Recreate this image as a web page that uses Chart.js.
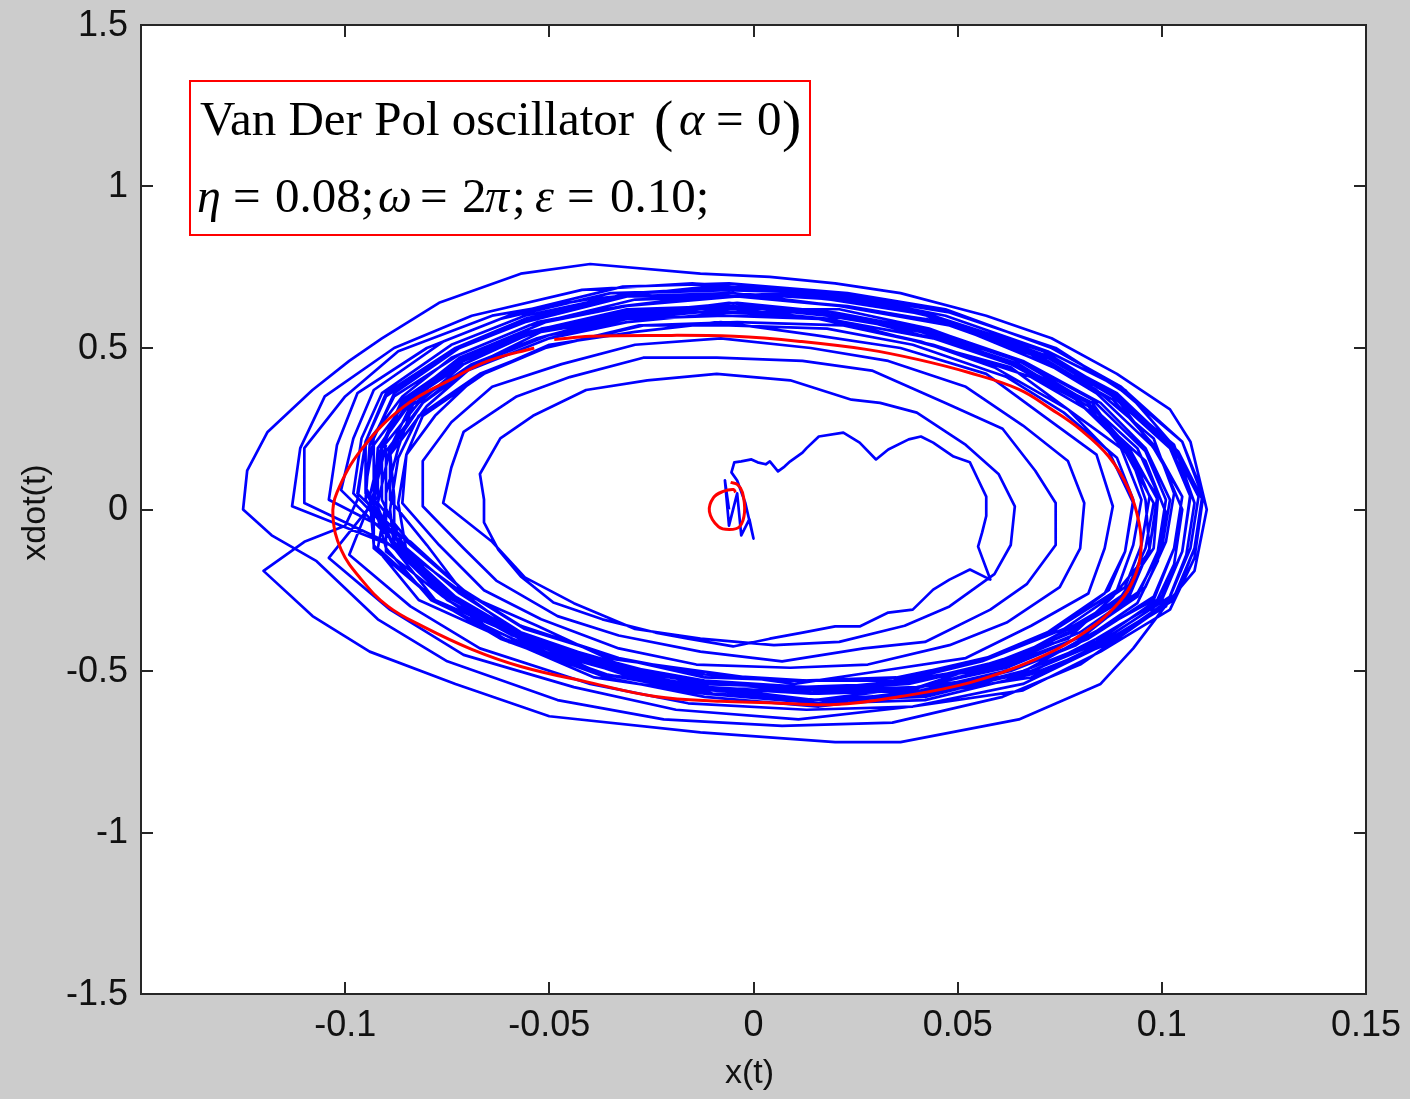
<!DOCTYPE html>
<html>
<head>
<meta charset="utf-8">
<script src="https://cdn.jsdelivr.net/npm/chart.js@4.4.1/dist/chart.umd.min.js"></script>
<style>
  html, body { margin: 0; padding: 0; background: #cccccc; }
  canvas { display: block; }
</style>
</head>
<body>
<canvas id="phaseChart" width="1410" height="1099"></canvas>
<script>
// Van Der Pol phase portrait - x(t) vs xdot(t)

const xTicks = [-0.15, -0.1, -0.05, 0, 0.05, 0.1, 0.15];
const xTickLabels = ['', '-0.1', '-0.05', '0', '0.05', '0.1', '0.15'];
const yTicks = [-1.5, -1, -0.5, 0, 0.5, 1, 1.5];
const yTickLabels = ['-1.5', '-1', '-0.5', '0', '0.5', '1', '1.5'];
const xTitle = 'x(t)';
const yTitle = 'xdot(t)';

// deterministic solution (red): small loop at the origin and the limit cycle
const redStart = [[-0.0056,0.084],[-0.0039,0.077],[-0.0027,0.053],[-0.0022,-0.009],[-0.0034,-0.053],[-0.0059,-0.062],[-0.0086,-0.053],[-0.0108,-0.006],[-0.0098,0.037],[-0.0074,0.056],[-0.0049,0.062],[-0.0044,0.053]];
const redCycle = [[-0.0537,0.50],[-0.065,0.46],[-0.073,0.41],[-0.0855,0.32],[-0.096,0.186],[-0.102,0.053],[-0.103,-0.02],[-0.101,-0.124],[-0.096,-0.217],[-0.0895,-0.30],[-0.081,-0.362],[-0.069,-0.433],[-0.057,-0.486],[-0.040,-0.536],[-0.024,-0.579],[-0.008,-0.594],[0.0037,-0.598],[0.020,-0.604],[0.036,-0.579],[0.053,-0.536],[0.069,-0.464],[0.081,-0.381],[0.0895,-0.288],[0.0934,-0.207],[0.0949,-0.124],[0.0944,-0.04],[0.0919,0.062],[0.087,0.164],[0.080,0.248],[0.073,0.31],[0.065,0.372],[0.0527,0.424],[0.0404,0.464],[0.028,0.495],[0.0118,0.52],[-0.0047,0.536],[-0.024,0.539],[-0.040,0.536],[-0.0488,0.526]];

// noisy solution (blue), loop by loop
const blueStart = [[-0.006,0.00],[-0.007,0.09],[-0.006,-0.05],[-0.004,0.05],[-0.003,-0.08],[-0.001,-0.03],[0.000,-0.09],[-0.002,0.02],[-0.004,0.09],[-0.0054,0.115],[-0.0047,0.146],[-0.003,0.149],[-0.0005,0.155],[0.001,0.146],[0.003,0.14],[0.004,0.149],[0.006,0.118],[0.0076,0.133],[0.009,0.149],[0.012,0.176],[0.013,0.19],[0.016,0.226],[0.022,0.238],[0.026,0.207],[0.030,0.155],[0.033,0.186],[0.038,0.217],[0.041,0.226],[0.044,0.207],[0.049,0.164],[0.053,0.146],[0.055,0.093],[0.057,0.04],[0.057,-0.02],[0.056,-0.071],[0.055,-0.115],[0.058,-0.217],[0.053,-0.186],[0.048,-0.217],[0.044,-0.248],[0.039,-0.31],[0.033,-0.319],[0.026,-0.362],[0.020,-0.362],[0.012,-0.381],[0.004,-0.40],[-0.005,-0.424],[-0.016,-0.40],[-0.024,-0.381],[-0.037,-0.34],[-0.049,-0.288],[-0.057,-0.207],[-0.0625,-0.124],[-0.066,-0.04],[-0.066,0.031]];
const loopA = [[-0.067,0.11],[-0.062,0.22],[-0.054,0.29],[-0.041,0.37],[-0.026,0.40],[-0.009,0.42],[0.009,0.40],[0.024,0.34],[0.031,0.33],[0.040,0.30],[0.052,0.20],[0.060,0.11],[0.064,0.01],[0.063,-0.11],[0.059,-0.20],[0.048,-0.30],[0.037,-0.36],[0.021,-0.41],[0.005,-0.42],[-0.013,-0.40],[-0.029,-0.37],[-0.044,-0.29],[-0.056,-0.21],[-0.064,-0.10]];
const loopB = [[-0.076,0.02],[-0.074,0.13],[-0.071,0.24],[-0.058,0.35],[-0.045,0.41],[-0.027,0.47],[-0.009,0.47],[0.012,0.46],[0.029,0.43],[0.047,0.33],[0.061,0.25],[0.069,0.12],[0.074,0.02],[0.074,-0.11],[0.067,-0.23],[0.058,-0.31],[0.042,-0.41],[0.027,-0.43],[0.007,-0.47],[-0.013,-0.44],[-0.033,-0.39],[-0.048,-0.33],[-0.063,-0.22],[-0.071,-0.12]];
const loopC = [[-0.081,0.01],[-0.081,0.15],[-0.074,0.27],[-0.064,0.38],[-0.047,0.45],[-0.029,0.51],[-0.008,0.53],[0.014,0.50],[0.033,0.46],[0.052,0.38],[0.066,0.26],[0.077,0.15],[0.081,0.02],[0.080,-0.12],[0.075,-0.24],[0.062,-0.35],[0.048,-0.42],[0.028,-0.48],[0.009,-0.49],[-0.014,-0.48],[-0.033,-0.43],[-0.052,-0.34],[-0.066,-0.25],[-0.077,-0.11]];
const loopD = [[-0.086,0.02],[-0.085,0.17],[-0.078,0.29],[-0.068,0.41],[-0.050,0.51],[-0.029,0.55],[-0.008,0.58],[0.015,0.54],[0.036,0.50],[0.057,0.42],[0.071,0.29],[0.084,0.17],[0.088,0.01],[0.086,-0.12],[0.082,-0.26],[0.068,-0.36],[0.052,-0.46],[0.031,-0.50],[0.010,-0.54],[-0.013,-0.50],[-0.036,-0.46],[-0.053,-0.36],[-0.071,-0.26],[-0.080,-0.11]];
const loopE = [[-0.089,0.03],[-0.089,0.17],[-0.080,0.32],[-0.070,0.43],[-0.050,0.53],[-0.031,0.59],[-0.007,0.60],[0.016,0.59],[0.041,0.52],[0.059,0.44],[0.077,0.31],[0.087,0.18],[0.093,0.02],[0.091,-0.13],[0.086,-0.26],[0.072,-0.39],[0.056,-0.47],[0.033,-0.54],[0.011,-0.55],[-0.014,-0.54],[-0.035,-0.47],[-0.057,-0.39],[-0.071,-0.26],[-0.085,-0.13]];
const loopF = [[-0.091,0.03],[-0.091,0.19],[-0.082,0.33],[-0.071,0.45],[-0.052,0.56],[-0.030,0.60],[-0.006,0.64],[0.019,0.60],[0.041,0.56],[0.064,0.45],[0.079,0.34],[0.092,0.18],[0.096,0.03],[0.097,-0.13],[0.088,-0.27],[0.077,-0.40],[0.057,-0.48],[0.038,-0.56],[0.012,-0.56],[-0.012,-0.56],[-0.037,-0.48],[-0.056,-0.40],[-0.075,-0.26],[-0.085,-0.13]];
const loopZ1 = [[-0.087,0.02],[-0.085,0.17],[-0.081,0.29],[-0.066,0.42],[-0.051,0.50],[-0.028,0.57],[-0.006,0.57],[0.018,0.56],[0.039,0.51],[0.062,0.41],[0.076,0.30],[0.089,0.16],[0.093,0.03],[0.091,-0.13],[0.087,-0.25],[0.072,-0.38],[0.057,-0.46],[0.034,-0.53],[0.012,-0.53],[-0.012,-0.52],[-0.033,-0.46],[-0.056,-0.37],[-0.070,-0.26],[-0.083,-0.12]];
const loopG = [[-0.092,0.02],[-0.089,0.19],[-0.084,0.32],[-0.069,0.45],[-0.053,0.53],[-0.029,0.61],[-0.005,0.61],[0.019,0.61],[0.044,0.53],[0.064,0.45],[0.083,0.33],[0.092,0.17],[0.099,0.04],[0.097,-0.12],[0.092,-0.27],[0.077,-0.38],[0.061,-0.49],[0.037,-0.53],[0.014,-0.57],[-0.012,-0.53],[-0.034,-0.49],[-0.058,-0.38],[-0.073,-0.27],[-0.086,-0.12]];
const loopH = [[-0.095,0.05],[-0.095,0.20],[-0.086,0.35],[-0.074,0.47],[-0.053,0.58],[-0.032,0.63],[-0.005,0.67],[0.021,0.63],[0.047,0.58],[0.068,0.47],[0.088,0.36],[0.098,0.19],[0.105,0.04],[0.103,-0.12],[0.098,-0.28],[0.082,-0.39],[0.065,-0.51],[0.040,-0.55],[0.015,-0.59],[-0.011,-0.55],[-0.037,-0.51],[-0.058,-0.39],[-0.078,-0.28],[-0.088,-0.12]];
const loopI = [[-0.088,0.04],[-0.089,0.18],[-0.081,0.33],[-0.070,0.43],[-0.050,0.53],[-0.031,0.58],[-0.006,0.61],[0.019,0.59],[0.040,0.52],[0.063,0.44],[0.077,0.31],[0.090,0.19],[0.095,0.03],[0.093,-0.11],[0.089,-0.25],[0.074,-0.37],[0.058,-0.46],[0.035,-0.52],[0.012,-0.53],[-0.013,-0.51],[-0.034,-0.46],[-0.057,-0.36],[-0.071,-0.25],[-0.084,-0.11]];
const loopJ = [[-0.097,0.05],[-0.095,0.21],[-0.090,0.36],[-0.073,0.50],[-0.056,0.59],[-0.030,0.67],[-0.004,0.68],[0.023,0.66],[0.047,0.60],[0.072,0.49],[0.091,0.37],[0.102,0.21],[0.109,0.04],[0.107,-0.12],[0.102,-0.27],[0.085,-0.41],[0.068,-0.50],[0.042,-0.58],[0.016,-0.59],[-0.010,-0.57],[-0.037,-0.51],[-0.059,-0.40],[-0.079,-0.28],[-0.090,-0.12]];
const loopK = [[-0.093,0.02],[-0.091,0.19],[-0.086,0.33],[-0.071,0.46],[-0.054,0.55],[-0.030,0.62],[-0.006,0.62],[0.021,0.62],[0.043,0.56],[0.067,0.45],[0.083,0.34],[0.096,0.18],[0.101,0.03],[0.099,-0.13],[0.094,-0.27],[0.079,-0.40],[0.062,-0.48],[0.038,-0.56],[0.014,-0.57],[-0.013,-0.55],[-0.035,-0.49],[-0.059,-0.39],[-0.075,-0.28],[-0.088,-0.12]];
const loopZ3 = [[-0.089,0.00],[-0.087,0.16],[-0.082,0.29],[-0.067,0.42],[-0.051,0.50],[-0.027,0.57],[-0.004,0.58],[0.022,0.57],[0.044,0.51],[0.068,0.41],[0.083,0.30],[0.096,0.15],[0.101,-0.01],[0.099,-0.16],[0.094,-0.29],[0.079,-0.42],[0.063,-0.50],[0.039,-0.57],[0.016,-0.59],[-0.010,-0.56],[-0.032,-0.51],[-0.056,-0.41],[-0.071,-0.30],[-0.084,-0.15]];
const loopL = [[-0.101,0.06],[-0.098,0.22],[-0.093,0.37],[-0.076,0.52],[-0.058,0.61],[-0.032,0.69],[-0.006,0.70],[0.023,0.67],[0.047,0.62],[0.073,0.50],[0.090,0.38],[0.105,0.21],[0.110,0.05],[0.108,-0.12],[0.103,-0.27],[0.086,-0.42],[0.068,-0.51],[0.042,-0.59],[0.016,-0.60],[-0.012,-0.57],[-0.039,-0.52],[-0.061,-0.40],[-0.082,-0.28],[-0.093,-0.11]];
const loopM = [[-0.094,0.04],[-0.091,0.20],[-0.086,0.34],[-0.071,0.47],[-0.055,0.55],[-0.031,0.62],[-0.007,0.63],[0.019,0.61],[0.041,0.56],[0.065,0.46],[0.081,0.34],[0.094,0.19],[0.099,0.05],[0.097,-0.12],[0.092,-0.26],[0.077,-0.37],[0.061,-0.48],[0.037,-0.53],[0.013,-0.56],[-0.013,-0.53],[-0.035,-0.48],[-0.059,-0.38],[-0.075,-0.26],[-0.088,-0.11]];
const loopN = [[-0.095,0.03],[-0.094,0.20],[-0.088,0.35],[-0.072,0.48],[-0.055,0.57],[-0.029,0.65],[-0.004,0.66],[0.023,0.63],[0.046,0.58],[0.072,0.47],[0.088,0.35],[0.102,0.19],[0.107,0.04],[0.105,-0.13],[0.100,-0.28],[0.084,-0.40],[0.067,-0.51],[0.041,-0.56],[0.016,-0.60],[-0.011,-0.57],[-0.034,-0.50],[-0.060,-0.41],[-0.076,-0.27],[-0.090,-0.13]];
const loopO = [[-0.090,0.05],[-0.087,0.19],[-0.083,0.34],[-0.068,0.45],[-0.052,0.55],[-0.028,0.60],[-0.005,0.63],[0.020,0.60],[0.041,0.55],[0.065,0.45],[0.079,0.34],[0.092,0.19],[0.097,0.04],[0.095,-0.11],[0.091,-0.24],[0.076,-0.37],[0.060,-0.45],[0.036,-0.52],[0.013,-0.53],[-0.012,-0.51],[-0.033,-0.46],[-0.057,-0.36],[-0.071,-0.25],[-0.084,-0.10]];
const loopP = [[-0.104,0.03],[-0.102,0.20],[-0.097,0.36],[-0.080,0.50],[-0.062,0.59],[-0.035,0.67],[-0.009,0.68],[0.020,0.67],[0.044,0.60],[0.071,0.49],[0.088,0.36],[0.103,0.20],[0.108,0.02],[0.106,-0.14],[0.101,-0.30],[0.084,-0.43],[0.066,-0.54],[0.039,-0.61],[0.013,-0.62],[-0.016,-0.60],[-0.040,-0.54],[-0.067,-0.43],[-0.084,-0.30],[-0.099,-0.14]];
const loopQ = [[-0.093,0.05],[-0.093,0.20],[-0.084,0.35],[-0.072,0.47],[-0.051,0.58],[-0.031,0.63],[-0.004,0.66],[0.021,0.63],[0.048,0.57],[0.068,0.48],[0.088,0.34],[0.098,0.20],[0.105,0.04],[0.103,-0.12],[0.098,-0.27],[0.082,-0.40],[0.065,-0.49],[0.041,-0.56],[0.016,-0.57],[-0.011,-0.55],[-0.034,-0.50],[-0.058,-0.39],[-0.074,-0.27],[-0.088,-0.12]];
const loopZ2 = [[-0.095,0.07],[-0.093,0.22],[-0.088,0.36],[-0.072,0.50],[-0.055,0.59],[-0.031,0.66],[-0.006,0.67],[0.021,0.65],[0.044,0.60],[0.068,0.49],[0.084,0.37],[0.098,0.22],[0.103,0.05],[0.101,-0.10],[0.096,-0.24],[0.080,-0.38],[0.063,-0.47],[0.039,-0.53],[0.014,-0.56],[-0.013,-0.53],[-0.036,-0.48],[-0.060,-0.37],[-0.076,-0.25],[-0.090,-0.10]];
const loopR = [[-0.110,0.02],[-0.110,0.19],[-0.100,0.35],[-0.087,0.49],[-0.064,0.60],[-0.041,0.65],[-0.011,0.69],[0.019,0.65],[0.044,0.60],[0.071,0.48],[0.089,0.36],[0.104,0.18],[0.110,0.03],[0.108,-0.15],[0.102,-0.31],[0.085,-0.44],[0.066,-0.56],[0.039,-0.61],[0.011,-0.65],[-0.019,-0.62],[-0.044,-0.55],[-0.071,-0.45],[-0.089,-0.31],[-0.104,-0.15]];
const loopS = [[-0.092,0.04],[-0.092,0.19],[-0.084,0.34],[-0.071,0.45],[-0.052,0.56],[-0.030,0.61],[-0.004,0.64],[0.020,0.61],[0.045,0.55],[0.066,0.46],[0.085,0.33],[0.096,0.19],[0.102,0.03],[0.100,-0.12],[0.094,-0.26],[0.081,-0.39],[0.062,-0.49],[0.040,-0.55],[0.015,-0.56],[-0.011,-0.54],[-0.035,-0.49],[-0.057,-0.39],[-0.075,-0.27],[-0.087,-0.12]];
const loopT = [[-0.113,0.01],[-0.111,0.19],[-0.105,0.35],[-0.088,0.50],[-0.069,0.60],[-0.042,0.68],[-0.015,0.70],[0.014,0.67],[0.040,0.61],[0.067,0.49],[0.084,0.36],[0.099,0.18],[0.105,0.00],[0.103,-0.17],[0.097,-0.33],[0.080,-0.48],[0.061,-0.58],[0.034,-0.66],[0.007,-0.67],[-0.022,-0.65],[-0.048,-0.59],[-0.075,-0.47],[-0.092,-0.34],[-0.107,-0.16]];
const loopU = [[-0.118,-0.08],[-0.125,0.00],[-0.124,0.12],[-0.119,0.24],[-0.108,0.37],[-0.099,0.46],[-0.091,0.53],[-0.077,0.64],[-0.057,0.73],[-0.040,0.76],[-0.013,0.73],[0.004,0.72],[0.020,0.70],[0.036,0.67],[0.057,0.60],[0.073,0.53],[0.089,0.42],[0.102,0.31],[0.107,0.21],[0.111,0.00],[0.108,-0.19],[0.102,-0.28],[0.093,-0.43],[0.085,-0.54],[0.065,-0.65],[0.036,-0.72],[0.020,-0.72],[-0.013,-0.69],[-0.050,-0.64],[-0.073,-0.54],[-0.094,-0.44],[-0.108,-0.33],[-0.120,-0.19],[-0.110,-0.10]];
const loopV = [[-0.100,-0.05],[-0.097,0.03],[-0.095,0.21],[-0.090,0.35],[-0.074,0.49],[-0.056,0.58],[-0.031,0.66],[-0.005,0.66],[0.022,0.66],[0.046,0.59],[0.071,0.48],[0.088,0.36],[0.102,0.20],[0.107,0.05],[0.105,-0.13],[0.100,-0.27],[0.084,-0.41],[0.066,-0.50],[0.041,-0.58],[0.015,-0.59],[-0.012,-0.57],[-0.036,-0.51],[-0.061,-0.40],[-0.078,-0.28],[-0.092,-0.12]];
const loopW = [[-0.090,0.02],[-0.090,0.18],[-0.081,0.33],[-0.070,0.44],[-0.050,0.54],[-0.031,0.59],[-0.005,0.62],[0.018,0.59],[0.044,0.53],[0.063,0.45],[0.082,0.32],[0.091,0.18],[0.098,0.02],[0.096,-0.12],[0.091,-0.26],[0.076,-0.39],[0.060,-0.47],[0.037,-0.54],[0.013,-0.55],[-0.012,-0.53],[-0.034,-0.48],[-0.057,-0.38],[-0.072,-0.26],[-0.085,-0.12]];
const loopX = [[-0.098,0.05],[-0.096,0.22],[-0.091,0.36],[-0.074,0.51],[-0.056,0.60],[-0.030,0.67],[-0.004,0.69],[0.024,0.66],[0.048,0.61],[0.074,0.50],[0.090,0.37],[0.105,0.21],[0.110,0.04],[0.108,-0.12],[0.103,-0.28],[0.086,-0.41],[0.068,-0.52],[0.042,-0.57],[0.016,-0.61],[-0.012,-0.58],[-0.036,-0.52],[-0.062,-0.40],[-0.078,-0.28],[-0.093,-0.12]];
const loopY = [[-0.093,0.03],[-0.092,0.19],[-0.084,0.33],[-0.072,0.46],[-0.053,0.55],[-0.032,0.61],[-0.006,0.63],[0.018,0.60],[0.042,0.55],[0.063,0.45],[0.082,0.33],[0.092,0.19],[0.099,0.03],[0.098,-0.12],[0.090,-0.27],[0.078,-0.38],[0.059,-0.48],[0.038,-0.54],[0.012,-0.56],[-0.012,-0.53],[-0.036,-0.48],[-0.058,-0.39],[-0.074,-0.27],[-0.088,-0.12],[-0.093,0.04],[-0.090,0.20]];

const blueLoops = [blueStart, loopA, loopB, loopC, loopD, loopE, loopF, loopZ1, loopG, loopH, loopI, loopJ, loopK, loopZ3,
    loopL, loopM, loopN, loopO, loopP, loopQ, loopZ2, loopR, loopS, loopT, loopU, loopV, loopW, loopX, loopY];

function toPoints(arr) {
    return arr.map(p => ({ x: p[0], y: p[1] }));
}

const sans = '"Liberation Sans", Arial, sans-serif';
const serif = '"Liberation Serif", "Times New Roman", serif';

const phasePlugin = {
    id: 'phasePlugin',
    beforeDraw(chart) {
        const { ctx, chartArea: a } = chart;
        ctx.save();
        ctx.fillStyle = '#cccccc';
        ctx.fillRect(0, 0, chart.width, chart.height);
        ctx.fillStyle = '#ffffff';
        ctx.fillRect(a.left, a.top, a.right - a.left, a.bottom - a.top);
        ctx.restore();
    },
    afterDraw(chart) {
        const { ctx, chartArea: a, scales } = chart;
        ctx.save();
        // frame + inward ticks on all four sides
        ctx.strokeStyle = '#262626';
        ctx.lineWidth = 2;
        ctx.strokeRect(a.left, a.top, a.right - a.left, a.bottom - a.top);
        ctx.beginPath();
        xTicks.slice(1, -1).forEach(v => {
            const px = Math.round(scales.x.getPixelForValue(v));
            ctx.moveTo(px, a.bottom); ctx.lineTo(px, a.bottom - 12);
            ctx.moveTo(px, a.top); ctx.lineTo(px, a.top + 12);
        });
        yTicks.slice(1, -1).forEach(v => {
            const py = Math.round(scales.y.getPixelForValue(v));
            ctx.moveTo(a.left, py); ctx.lineTo(a.left + 12, py);
            ctx.moveTo(a.right, py); ctx.lineTo(a.right - 12, py);
        });
        ctx.stroke();

        // tick labels and axis titles
        ctx.fillStyle = '#111111';
        ctx.font = '36px ' + sans;
        ctx.textBaseline = 'middle';
        ctx.textAlign = 'center';
        xTicks.forEach((v, i) => {
            ctx.fillText(xTickLabels[i], scales.x.getPixelForValue(v), a.bottom + 32);
        });
        ctx.textAlign = 'right';
        yTicks.forEach((v, i) => {
            ctx.fillText(yTickLabels[i], a.left - 13, scales.y.getPixelForValue(v) + 1);
        });
        ctx.font = '34px ' + sans;
        ctx.textAlign = 'center';
        ctx.fillText(xTitle, (a.left + a.right) / 2 - 4, a.bottom + 80);
        ctx.save();
        ctx.translate(36, (a.top + a.bottom) / 2 + 3);
        ctx.rotate(-Math.PI / 2);
        ctx.fillText(yTitle, 0, 0);
        ctx.restore();

        // annotation box
        const bx = a.left + 49, by = a.top + 56;
        ctx.fillStyle = '#ffffff';
        ctx.fillRect(bx, by, 620, 154);
        ctx.strokeStyle = '#ff0000';
        ctx.lineWidth = 2;
        ctx.strokeRect(bx, by, 620, 154);

        ctx.fillStyle = '#000000';
        ctx.textBaseline = 'alphabetic';
        ctx.textAlign = 'left';
        const up = '49px ' + serif, it = 'italic 48px ' + serif;
        const line1 = by + 54, line2 = by + 131;
        const parts = [
            [up, 'Van Der Pol oscillator', 10, line1],
            ['58px ' + serif, '(', 464, line1 + 5],
            [it, 'α', 489, line1],
            [up, '=', 526, line1],
            [up, '0', 567, line1],
            ['58px ' + serif, ')', 592, line1 + 5],
            [it, 'η', 7, line2],
            [up, '=', 43, line2],
            [up, '0.08;', 85, line2],
            [it, 'ω', 188, line2],
            [up, '=', 230, line2],
            [up, '2', 272, line2],
            [it, 'π', 295, line2],
            [up, ';', 322, line2],
            [it, 'ε', 345, line2],
            [up, '=', 377, line2],
            [up, '0.10;', 420, line2]
        ];
        parts.forEach(p => {
            ctx.font = p[0];
            ctx.fillText(p[1], bx + p[2], p[3]);
        });
        ctx.restore();
    }
};

new Chart(document.getElementById('phaseChart'), {
    type: 'scatter',
    data: {
        datasets: [
            { data: toPoints(redStart), borderColor: '#ff0000', borderWidth: 3, showLine: true, pointRadius: 0, tension: 0.4, order: 0 },
            { data: toPoints(redCycle), borderColor: '#ff0000', borderWidth: 3, showLine: true, pointRadius: 0, tension: 0.4, order: 0 },
            { data: toPoints(blueLoops.flat()), borderColor: '#0000ff', borderWidth: 2.7, borderJoinStyle: 'round', showLine: true, pointRadius: 0, order: 2 }
        ]
    },
    options: {
        responsive: false,
        animation: false,
        layout: { padding: { top: 25, right: 44, left: 0, bottom: 0 } },
        plugins: { legend: { display: false }, tooltip: { enabled: false } },
        scales: {
            x: {
                type: 'linear',
                min: -0.15, max: 0.15,
                afterBuildTicks: s => { s.ticks = xTicks.map(v => ({ value: v })); },
                afterFit: s => { s.height = 105; },
                grid: { display: false, drawTicks: false },
                border: { display: false },
                ticks: { display: false }
            },
            y: {
                type: 'linear',
                min: -1.5, max: 1.5,
                afterBuildTicks: s => { s.ticks = yTicks.map(v => ({ value: v })); },
                afterFit: s => { s.width = 141; },
                grid: { display: false, drawTicks: false },
                border: { display: false },
                ticks: { display: false }
            }
        }
    },
    plugins: [phasePlugin]
});
</script>
</body>
</html>
